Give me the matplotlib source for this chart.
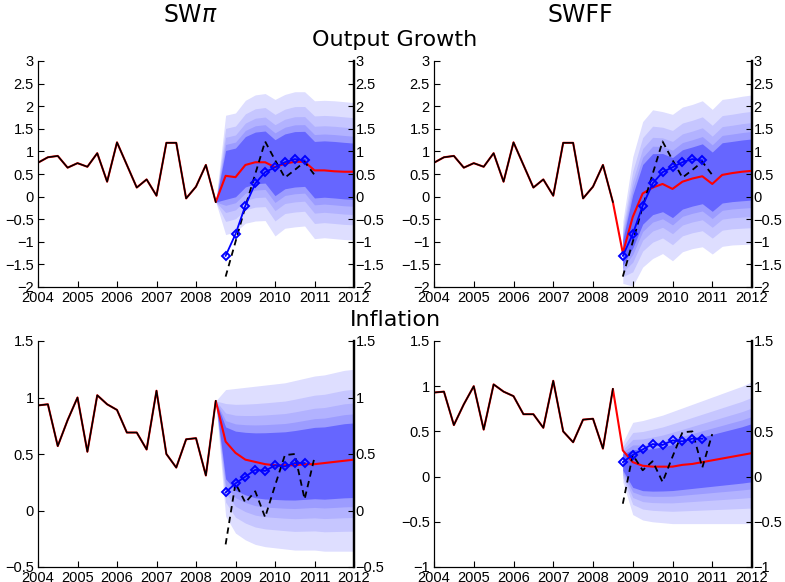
import numpy as np
import matplotlib
matplotlib.use("Agg")
import matplotlib.pyplot as plt
from matplotlib.ticker import FuncFormatter, MultipleLocator

# ---------------- data ----------------
hist_start = 2004.0
hist_out = [0.75, 0.87, 0.90, 0.64, 0.74, 0.66, 0.96, 0.33, 1.20, 0.70, 0.20, 0.38,
            0.02, 1.19, 1.19, -0.04, 0.22, 0.70, -0.12]
hist_inf = [0.93, 0.94, 0.57, 0.80, 1.00, 0.52, 1.02, 0.94, 0.89, 0.69, 0.69, 0.54,
            1.06, 0.50, 0.38, 0.63, 0.64, 0.31, 0.97]

# forecasts 2008Q4 .. 2012Q1
fc_out_swpi = [0.46, 0.43, 0.70, 0.76, 0.76, 0.65, 0.73, 0.77, 0.77, 0.58, 0.58, 0.56, 0.55, 0.55]
fc_out_swff = [-1.25, -0.45, 0.07, 0.20, 0.28, 0.17, 0.33, 0.40, 0.45, 0.28, 0.48, 0.52, 0.55, 0.57]
fc_inf_swpi = [0.61, 0.51, 0.45, 0.43, 0.41, 0.40, 0.40, 0.40, 0.41, 0.41, 0.42, 0.43, 0.44, 0.45]
fc_inf_swff = [0.29, 0.16, 0.12, 0.11, 0.11, 0.11, 0.13, 0.14, 0.16, 0.18, 0.20, 0.22, 0.24, 0.26]

# outer (90%) band edges 2008Q4 .. 2012Q1
swpi_out_hi = [1.80, 1.85, 2.13, 2.25, 2.28, 2.15, 2.26, 2.32, 2.32, 2.12, 2.13, 2.12, 2.10, 2.08]
swpi_out_lo = [-0.84, -0.78, -0.59, -0.54, -0.53, -0.87, -0.70, -0.67, -0.65, -0.93, -0.91, -0.93, -0.95, -0.96]
swff_out_hi = [-0.55, 0.88, 1.66, 1.92, 1.88, 1.82, 1.98, 2.04, 2.12, 1.93, 2.15, 2.18, 2.22, 2.25]
swff_out_lo = [-1.92, -1.98, -1.56, -1.37, -1.26, -1.42, -1.22, -1.15, -1.11, -1.27, -1.10, -1.07, -1.06, -1.05]
swpi_inf_hi = [1.07, 1.08, 1.09, 1.10, 1.11, 1.12, 1.13, 1.15, 1.17, 1.19, 1.20, 1.22, 1.24, 1.25]
swpi_inf_lo = [-0.05, -0.20, -0.26, -0.30, -0.32, -0.33, -0.34, -0.35, -0.35, -0.35, -0.36, -0.36, -0.36, -0.36]
swff_inf_hi = [0.38, 0.60, 0.62, 0.65, 0.68, 0.72, 0.76, 0.80, 0.84, 0.88, 0.92, 0.96, 1.00, 1.05]
swff_inf_lo = [-0.06, -0.42, -0.48, -0.50, -0.51, -0.52, -0.52, -0.52, -0.52, -0.52, -0.52, -0.52, -0.52, -0.52]

# SPF-type forecast (blue) 2008Q4 .. 2010Q4, realized (dashed) 2008Q4 .. 2011Q1
spf_out = [-1.31, -0.83, -0.20, 0.29, 0.54, 0.65, 0.76, 0.83, 0.80]
spf_inf = [0.16, 0.24, 0.30, 0.36, 0.35, 0.40, 0.39, 0.42, 0.42]
act_out = [-1.77, -1.00, -0.22, 0.50, 1.22, 0.81, 0.42, 0.59, 0.77, 0.48]
act_inf = [-0.30, 0.24, 0.07, 0.17, -0.06, 0.22, 0.49, 0.50, 0.10, 0.47]

band_fracs = [1.0, 0.78, 0.63, 0.51, 0.41]
band_colors = ['#dedeff', '#c6c6ff', '#b2b2ff', '#9c9cff', '#6666ff']

titles = ["SW$\\pi$", "SWFF"]
xticks = list(range(2004, 2013))

# ---------------- helpers ----------------
plt.rcParams['mathtext.fontset'] = 'dejavusans'
q_hist = hist_start + 0.25 * np.arange(len(hist_out))
jump = q_hist[-1]
q_fc = jump + 0.25 * np.arange(1, len(fc_out_swpi) + 1)
q_spf = jump + 0.25 * np.arange(1, len(spf_out) + 1)
q_act = jump + 0.25 * np.arange(1, len(act_out) + 1)

fmt = FuncFormatter(lambda v, p: ('%g' % v).replace('-', '\u2212'))

fig = plt.figure(figsize=(7.85, 5.82), dpi=100)
W, H = 785.0, 582.0

def panel(rect, hist, fc, hi, lo, spf, act, ylim, zero_jump):
    l, t, r, b = rect
    ax = fig.add_axes([l / W, 1 - b / H, (r - l) / W, (b - t) / H])
    hi = np.array(hi); lo = np.array(lo)
    mid = (hi + lo) / 2; half = (hi - lo) / 2
    xs = q_fc
    if zero_jump:
        xs = np.concatenate([[jump], q_fc])
        mid = np.concatenate([[hist[-1]], mid])
        half = np.concatenate([[0.0], half])
    for f, c in zip(band_fracs, band_colors):
        ax.fill_between(xs, mid - f * half, mid + f * half, color=c, lw=0, zorder=1)
    ax.plot(np.concatenate([q_hist, q_fc]), np.concatenate([hist, fc]),
            color='#ff0000', lw=1.5, zorder=3)
    ax.plot(q_hist, hist, color='black', lw=1.1, zorder=4)
    ax.plot(q_act, act, color='black', lw=1.3, ls=(0, (3.5, 2.5)), zorder=5)
    ax.plot(q_spf, spf, color='#0000ff', lw=1.3, marker='D', ms=3.8,
            mfc='none', mec='#0000ff', mew=1.4, zorder=6)
    ax.set_xlim(2004, 2012)
    ax.set_ylim(*ylim)
    ax.set_xticks(xticks)
    ax.yaxis.set_major_locator(MultipleLocator(0.5))
    ax.yaxis.set_major_formatter(fmt)
    ax.tick_params(direction='in', length=4, labelsize=10.5, pad=3)
    ax.spines['top'].set_visible(False)
    ax.spines['right'].set_linewidth(1.6)
    ax2 = ax.twinx()
    ax2.set_ylim(*ylim)
    ax2.yaxis.set_major_locator(MultipleLocator(0.5))
    ax2.yaxis.set_major_formatter(fmt)
    ax2.tick_params(direction='in', length=4, labelsize=10.5, pad=1)
    ax2.spines['top'].set_visible(False)
    ax2.spines['right'].set_linewidth(1.6)
    for a in (ax, ax2):
        for lab in a.get_xticklabels() + a.get_yticklabels():
            lab.set_fontfamily('Liberation Sans')
    return ax

panel((38, 61, 354, 287), hist_out, fc_out_swpi, swpi_out_hi, swpi_out_lo, spf_out, act_out, (-2, 3), True)
panel((434, 61, 752, 287), hist_out, fc_out_swff, swff_out_hi, swff_out_lo, spf_out, act_out, (-2, 3), False)
panel((38, 341, 354, 567), hist_inf, fc_inf_swpi, swpi_inf_hi, swpi_inf_lo, spf_inf, act_inf, (-0.5, 1.5), True)
panel((434, 341, 752, 567), hist_inf, fc_inf_swff, swff_inf_hi, swff_inf_lo, spf_inf, act_inf, (-1, 1.5), False)

fig.text(190 / W, 1 - 15 / H, titles[0], ha='center', va='center', fontsize=17, family='DejaVu Sans')
fig.text(580 / W, 1 - 15 / H, titles[1], ha='center', va='center', fontsize=17, family='DejaVu Sans')
fig.text(395 / W, 1 - 40 / H, "Output Growth", ha='center', va='center', fontsize=16, family='DejaVu Sans')
fig.text(395 / W, 1 - 320 / H, "Inflation", ha='center', va='center', fontsize=16, family='DejaVu Sans')

fig.savefig("out.png", dpi=100)
